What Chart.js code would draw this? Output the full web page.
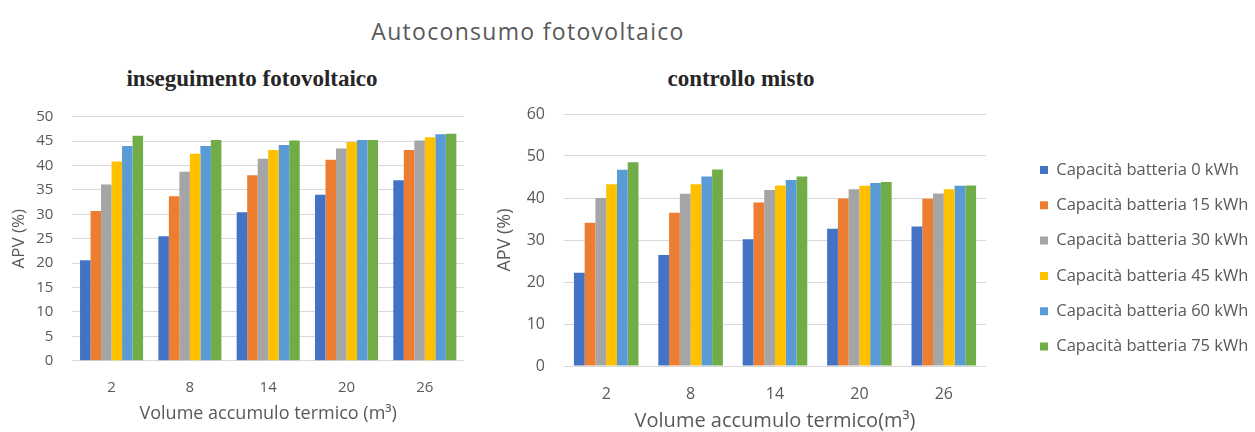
<!DOCTYPE html>
<html>
<head>
<meta charset="utf-8">
<script src="https://cdn.jsdelivr.net/npm/chart.js@4"></script>
<style>
  body { margin: 0; width: 1255px; height: 432px; background: #fff; position: relative; overflow: hidden; }
  .lbl { position: absolute; white-space: nowrap; transform: translateX(-50%); }
  #main { left: 528px; top: 15px; line-height: 30px; font: 23px "Open Sans"; letter-spacing: 1.3px; color: #595959; }
  .sub { top: 66px; line-height: 28px; font: bold 23px "Liberation Serif"; color: #262626; }
  .box { position: absolute; top: 100px; height: 332px; }
</style>
</head>
<body>
<div id="main" class="lbl">Autoconsumo fotovoltaico</div>
<div class="lbl sub" style="left:252px">inseguimento fotovoltaico</div>
<div class="lbl sub" style="left:741px">controllo misto</div>
<div class="box" style="left:0;width:470px"><canvas id="chartInseg"></canvas></div>
<div class="box" style="left:470px;width:785px"><canvas id="chartMisto"></canvas></div>
<script>
// volume accumulo termico (m3)
const volumi = ['2', '8', '14', '20', '26'];
const capacita = ['Capacità batteria 0 kWh', 'Capacità batteria 15 kWh', 'Capacità batteria 30 kWh',
                  'Capacità batteria 45 kWh', 'Capacità batteria 60 kWh', 'Capacità batteria 75 kWh'];

// inseguimento fotovoltaico, APV %
const inseg0  = [20.6, 25.5, 30.4, 34.0, 37.0];
const inseg15 = [30.7, 33.7, 38.0, 41.2, 43.2];
const inseg30 = [36.1, 38.7, 41.4, 43.5, 45.1];
const inseg45 = [40.8, 42.4, 43.2, 44.8, 45.8];
const inseg60 = [44.0, 44.0, 44.2, 45.2, 46.4];
const inseg75 = [46.1, 45.2, 45.1, 45.2, 46.5];

// controllo misto, APV %
const misto0  = [22.2, 26.4, 30.2, 32.7, 33.2];
const misto15 = [34.1, 36.5, 38.9, 39.9, 39.8];
const misto30 = [40.0, 41.0, 41.9, 42.1, 41.1];
const misto45 = [43.3, 43.3, 43.0, 42.9, 42.1];
const misto60 = [46.7, 45.1, 44.3, 43.6, 42.9];
const misto75 = [48.5, 46.8, 45.1, 43.8, 43.0];

const colori = ['#4472C4', '#ED7D31', '#A5A5A5', '#FFC000', '#5B9BD5', '#70AD47'];
const grey = '#595959';

function makeSets(series, catPct) {
  return series.map((d, i) => ({
    label: capacita[i],
    data: d,
    backgroundColor: colori[i],
    barPercentage: 1,
    categoryPercentage: catPct
  }));
}

new Chart(document.getElementById('chartInseg'), {
  type: 'bar',
  data: {
    labels: volumi,
    datasets: makeSets([inseg0, inseg15, inseg30, inseg45, inseg60, inseg75], 0.805)
  },
  options: {
    animation: false,
    responsive: true,
    maintainAspectRatio: false,
    layout: { padding: { top: 16.7, right: 6, bottom: 0, left: 0 } },
    plugins: { legend: { display: false }, tooltip: { enabled: false } },
    scales: {
      x: {
        grid: { display: false, drawTicks: false },
        border: { display: false },
        ticks: { color: grey, font: { family: 'Open Sans', size: 15 }, padding: 17.8 },
        title: { display: true, text: 'Volume accumulo termico (m³)', color: grey,
                 font: { family: 'Open Sans', size: 18 }, padding: { top: 0, bottom: 7.2 } },
        afterFit: s => { s.height = 71.3; }
      },
      y: {
        min: 0, max: 50,
        ticks: { stepSize: 5, color: grey, font: { family: 'Open Sans', size: 15 }, padding: 0 },
        grid: { color: '#d9d9d9', tickLength: 19, tickColor: 'rgba(0,0,0,0)' },
        border: { display: false },
        title: { display: true, text: 'APV (%)', color: grey,
                 font: { family: 'Open Sans', size: 17 }, padding: { top: 8.8, bottom: 0 } },
        afterFit: s => { s.width = 72.4; }
      }
    }
  }
});

new Chart(document.getElementById('chartMisto'), {
  type: 'bar',
  data: {
    labels: volumi,
    datasets: makeSets([misto0, misto15, misto30, misto45, misto60, misto75], 0.765)
  },
  options: {
    animation: false,
    responsive: true,
    maintainAspectRatio: false,
    layout: { padding: { top: 14, right: 0, bottom: 0, left: 0 } },
    plugins: {
      tooltip: { enabled: false },
      legend: {
        position: 'right',
        align: 'start',
        maxWidth: 233.8,
        title: { display: true, text: ' ', font: { size: 10 }, padding: { top: 16.95, bottom: 0 } },
        labels: { boxWidth: 8, boxHeight: 8, padding: 18.8, color: grey,
                  font: { family: 'Open Sans', size: 16.5 } }
      }
    },
    scales: {
      x: {
        grid: { display: false, drawTicks: false },
        border: { display: false },
        ticks: { color: grey, font: { family: 'Open Sans', size: 16 }, padding: 18.4 },
        title: { display: true, text: 'Volume accumulo termico(m³)', color: grey,
                 font: { family: 'Open Sans', size: 20 }, padding: { top: 0, bottom: -1 } },
        afterFit: s => { s.height = 66; }
      },
      y: {
        min: 0, max: 60,
        ticks: { stepSize: 10, color: grey, font: { family: 'Open Sans', size: 16 }, padding: 0 },
        grid: { color: '#d9d9d9', tickLength: 19, tickColor: 'rgba(0,0,0,0)' },
        border: { display: false },
        title: { display: true, text: 'APV (%)', color: grey,
                 font: { family: 'Open Sans', size: 18 }, padding: { top: 24, bottom: 0 } },
        afterFit: s => { s.width = 94; }
      },
      // empty gap between plot and legend
      yGap: {
        type: 'linear',
        position: 'right',
        grid: { display: false },
        border: { display: false },
        ticks: { display: false },
        afterFit: s => { s.width = 35.2; }
      }
    }
  }
});
</script>
</body>
</html>
